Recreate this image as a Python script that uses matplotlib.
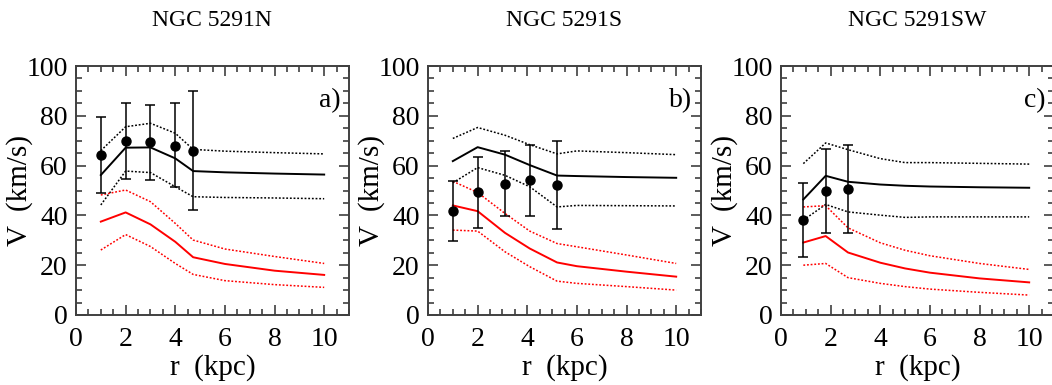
import numpy as np
import matplotlib
matplotlib.use('Agg')
import matplotlib.pyplot as plt
from matplotlib import rcParams
from matplotlib.ticker import MultipleLocator

rcParams['font.family'] = 'serif'
rcParams['font.serif'] = ['Liberation Serif', 'DejaVu Serif']
rcParams['font.size'] = 20
rcParams['mathtext.default'] = 'regular'

titles = ["NGC 5291N", "NGC 5291S", "NGC 5291SW"]
tags = ["a)", "b)", "c)"]

# observed points
r_obs_a = [1.0, 2.0, 3.0, 4.0, 4.72]
v_obs_a = [64.3, 70.0, 69.3, 68.0, 66.0]
v_hi_a = [79.7, 85.3, 84.3, 85.0, 90.1]
v_lo_a = [49.1, 54.6, 54.2, 51.3, 42.3]

r_obs_b = [1.0, 2.0, 3.1, 4.1, 5.2]
v_obs_b = [41.7, 49.5, 52.5, 54.1, 52.4]
v_hi_b = [53.7, 63.5, 65.8, 68.4, 70.0]
v_lo_b = [29.8, 34.8, 39.7, 39.8, 34.5]

r_obs_c = [0.9, 1.8, 2.7]
v_obs_c = [38.1, 49.7, 50.8]
v_hi_c = [53.1, 66.7, 68.4]
v_lo_c = [23.1, 32.9, 32.8]

# model curves (black: total, red: second component), with upper/lower bounds
r_mod_a = [1.0, 2.0, 3.0, 4.0, 4.72, 6.0, 8.0, 10.0]
tot_a = [56.2, 67.2, 67.3, 62.9, 57.8, 57.3, 56.8, 56.4]
tot_hi_a = [66.0, 75.6, 77.0, 73.0, 66.5, 65.8, 65.2, 64.7]
tot_lo_a = [44.2, 57.8, 57.2, 51.5, 47.5, 47.2, 47.0, 46.7]
red_a = [37.5, 41.2, 36.4, 29.4, 23.2, 20.5, 17.8, 16.1]
red_hi_a = [48.2, 50.2, 45.5, 36.8, 30.1, 26.5, 23.5, 20.7]
red_lo_a = [26.1, 32.3, 27.5, 20.7, 16.3, 13.8, 12.2, 11.1]

r_mod_b = [1.0, 2.0, 3.1, 4.1, 5.2, 6.0, 8.0, 10.0]
tot_b = [61.8, 67.4, 64.4, 60.2, 56.0, 55.8, 55.4, 55.1]
tot_hi_b = [70.9, 75.3, 72.2, 68.4, 64.7, 65.9, 65.2, 64.4]
tot_lo_b = [53.1, 59.2, 56.1, 51.5, 43.4, 44.0, 43.9, 43.8]
red_b = [44.0, 41.7, 33.0, 26.7, 21.1, 19.6, 17.4, 15.4]
red_hi_b = [53.7, 49.2, 40.8, 33.7, 28.7, 27.4, 24.1, 20.7]
red_lo_b = [34.1, 33.7, 25.4, 19.4, 13.6, 12.7, 11.4, 10.0]

r_mod_c = [0.9, 1.8, 2.7, 4.0, 5.0, 6.0, 8.0, 10.0]
tot_c = [46.4, 55.9, 53.5, 52.4, 51.9, 51.6, 51.3, 51.1]
tot_hi_c = [60.8, 69.1, 66.4, 62.8, 61.2, 61.2, 60.9, 60.6]
tot_lo_c = [38.1, 44.4, 41.4, 40.1, 39.2, 39.4, 39.4, 39.4]
red_c = [29.1, 31.7, 25.1, 21.0, 18.7, 17.0, 14.7, 13.1]
red_hi_c = [43.4, 43.9, 35.0, 29.0, 26.0, 23.8, 20.7, 18.3]
red_lo_c = [20.0, 20.7, 15.0, 12.7, 11.4, 10.4, 9.1, 8.0]

panels = [
    (r_obs_a, v_obs_a, v_hi_a, v_lo_a, r_mod_a, tot_a, tot_hi_a, tot_lo_a, red_a, red_hi_a, red_lo_a),
    (r_obs_b, v_obs_b, v_hi_b, v_lo_b, r_mod_b, tot_b, tot_hi_b, tot_lo_b, red_b, red_hi_b, red_lo_b),
    (r_obs_c, v_obs_c, v_hi_c, v_lo_c, r_mod_c, tot_c, tot_hi_c, tot_lo_c, red_c, red_hi_c, red_lo_c),
]

W, H = 1052, 385
fig = plt.figure(figsize=(W / 100, H / 100), dpi=100)
lefts = [76, 428, 781]
dots = (0, (1.2, 1.2))

for i, p in enumerate(panels):
    r_obs, v_obs, v_hi, v_lo, r_mod, tot, tot_hi, tot_lo, red, red_hi, red_lo = p
    ax = fig.add_axes([lefts[i] / W, (H - 315) / H, 273 / W, 249 / H])

    ax.plot(r_mod, tot, '-', color='black', lw=1.4)
    ax.plot(r_mod, tot_hi, linestyle=dots, color='black', lw=1.1)
    ax.plot(r_mod, tot_lo, linestyle=dots, color='black', lw=1.1)
    ax.plot(r_mod, red, '-', color='red', lw=1.4)
    ax.plot(r_mod, red_hi, linestyle=dots, color='red', lw=1.1)
    ax.plot(r_mod, red_lo, linestyle=dots, color='red', lw=1.1)

    v_obs = np.array(v_obs)
    yerr = [v_obs - np.array(v_lo), np.array(v_hi) - v_obs]
    ax.errorbar(r_obs, v_obs, yerr=yerr, fmt='o', color='black', ms=6.5,
                elinewidth=1.1, capsize=3.5, capthick=1.1)

    ax.set_xlim(0, 11)
    ax.set_ylim(0, 100)
    ax.set_xticks([0, 2, 4, 6, 8, 10])
    ax.set_yticks([0, 20, 40, 60, 80, 100])
    ax.xaxis.set_minor_locator(MultipleLocator(0.5))
    ax.yaxis.set_minor_locator(MultipleLocator(5))
    ax.tick_params(which='both', direction='in', top=True, right=True, color='#404040', width=1.2)
    ax.tick_params(which='major', length=7)
    ax.tick_params(axis='x', which='major', pad=9)
    ax.tick_params(axis='y', which='major', pad=6)
    ax.tick_params(which='minor', length=4.5)
    for s in ax.spines.values():
        s.set_linewidth(1.4)
        s.set_color('#404040')

    ax.set_xlabel("r  (kpc)", labelpad=1, fontsize=21)
    ax.set_ylabel("V  (km/s)", fontsize=21, va='center')
    ax.yaxis.set_label_coords(-56 / 273, 0.5)
    ax.text(10.65, 86, tags[i], ha='right', va='center', fontsize=20)
    cx = (lefts[i] + 136) / W
    fig.text(cx, 1 - 20 / H, titles[i], ha='center', va='center', fontsize=17)

fig.savefig('out.png', dpi=100)
